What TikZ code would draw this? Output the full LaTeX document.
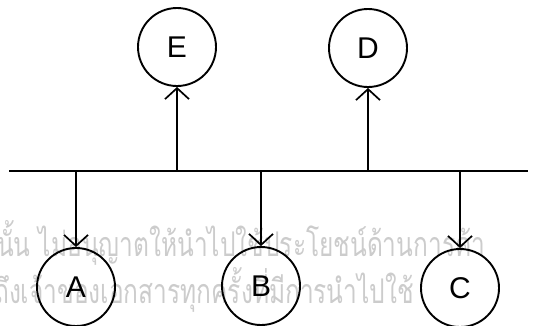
\documentclass[tikz,border=0pt]{standalone}
\usepackage{fontspec}
\setmainfont{Liberation Sans}
\newfontfamily\thaifont[Script=Thai]{Loma}
\usetikzlibrary{arrows.meta}
\begin{document}
\begin{tikzpicture}[x=1pt,y=-1pt,
  station/.style={circle,draw,line width=1.9pt,minimum size=78pt,inner sep=0pt,
    font=\fontsize{30}{30}\selectfont},
  link/.style={line width=1.7pt,-{Straight Barb[length=11pt,width=24pt,line width=1.7pt]}},
  bus/.style={line width=2.6pt},
  wm/.style={text=black!20,font=\thaifont\fontsize{34}{34}\selectfont,anchor=base west,inner sep=0pt}]
\useasboundingbox (0,0) rectangle (537,325);
\clip (0,0) rectangle (537,325);
% watermark
\node[wm] (w1) at (-3,256) {\scalebox{0.72}[1]{นั้น ไม่อนุญาตให้นำไปใช้ประโยชน์ด้านการค้า}};
\node[wm] (w2) at (-6,303) {\scalebox{0.72}[1]{ถึงเจ้าของเอกสารทุกครั้งที่มีการนำไปใช้}};
% bus
\coordinate (L) at (9,171);
\coordinate (R) at (528,171);
\draw[bus] (L) -- (R);
% stations
\node[station] (E) at (177,47) {E};
\node[station] (D) at (368,48) {D};
\node[station] (A) at (76,287) {A};
\node[station] (B) at (261,286) {B};
\node[station] (C) at (460,288) {C};
% taps
\coordinate (bE) at (E.south |- L);
\coordinate (bD) at (D.south |- L);
\coordinate (bA) at (A.north |- L);
\coordinate (bB) at (B.north |- L);
\coordinate (bC) at (C.north |- L);
\draw[link] (bE) -- (E.south);
\draw[link] (bD) -- (D.south);
\draw[link] (bA) -- (A.north);
\draw[link] (bB) -- (B.north);
\draw[link] (bC) -- (C.north);
\end{tikzpicture}
\end{document}
